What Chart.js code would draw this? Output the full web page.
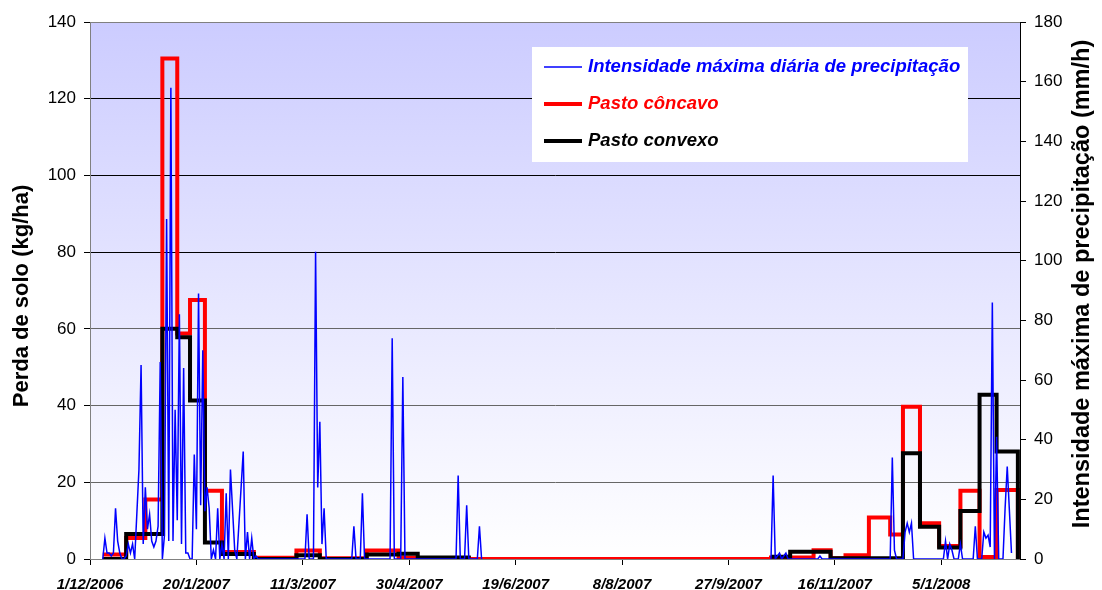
<!DOCTYPE html>
<html><head><meta charset="utf-8">
<script src="https://cdn.jsdelivr.net/npm/chart.js@4.4.1/dist/chart.umd.min.js"></script>
<style>html,body{margin:0;padding:0;background:#fff;}canvas{display:block;}</style>
</head><body>
<canvas id="c" width="1102" height="590"></canvas>
<script>
// x values are days counted from 1/12/2006
const seriesLabels = ['Intensidade máxima diária de precipitação', 'Pasto côncavo', 'Pasto convexo'];
const leftTitle = 'Perda de solo (kg/ha)';
const rightTitle = 'Intensidade máxima de precipitação (mm/h)';

const blueDays = [6,7,8,9,10,11,12,13,14,15,16,17,18,19,20,21,23,24,25,26,27,28,29,30,31,32,33,34,35,36,37,38,39,40,41,42,43,44,45,46,47,48,49,50,51,52,53,54,55,56,57,58,59,60,61,62,63,64,65,66,68,69,72,73,74,75,76,77,78,79,
  101,102,103,105,106,107,108,109,110,111,123,124,125,127,128,129,141,142,143,146,147,148,172,173,174,176,177,178,182,183,184,250,
  320,321,322,324,325,326,327,328,342,343,344,376,377,378,379,382,383,384,385,386,387,401,402,403,404,405,406,408,409,410,415,416,417,419,420,421,422,423,424,425,426,427,429,430,431,433];
const blueValues = [0,7,2,2,1,2,17,6,2,0,0,1,5,2,5,0,30,65,5,24,10,15,6,4,6,11,66,0,8,114,6,158,6,50,13,82,5,64,2,2,0,0,35,10,89,18,70,16,24,17,0,3,0,17,0,5,0,22,0,30,3,0,36,0,9,0,7,0,1,0,
  0,15,0,0,103,24,46,5,17,0,0,11,0,0,22,0,0,74,0,0,61,0,0,28,0,0,18,0,0,11,0,null,
  0,28,0,2,0,1,2,0,0,1,0,0,34,3,0,0,9,12,9,12,0,0,6,0,5,3,0,0,5,0,0,11,0,0,9,7,8,4,86,0,41,0,0,17,31,2];

const concaveDays = [6,17,26,34,41,47,54,62,77,97,108,130,145,154,178,320,340,348,355,366,376,382,390,399,409,418,426,436];
const concaveValues = [1.2,5.5,15.5,130.5,58.8,67.5,17.8,1.8,0.3,2.2,0.2,2.2,0.3,0.2,0,0.4,2.3,0.2,1.0,10.8,6.4,39.7,9.3,3.4,17.8,0.5,18,0];

const convexDays = [6,17,34,41,47,54,62,77,97,108,130,145,154,178,200,320,329,348,382,390,399,409,418,426,436];
const convexValues = [0,6.5,60,57.8,41.3,4.3,1.3,0,1.0,0,1.2,1.4,0.4,0.3,null,0.6,1.9,0.2,27.6,8.4,3.0,12.5,42.8,28,0];

const xMin = 0, xMax = 437, xStep = 50;
const leftMax = 140, rightMax = 180, yStep = 20;

const toPts = (d, v) => d.map((x, i) => ({x: x, y: v[i]}));
const FONT = "'Liberation Sans', Arial, sans-serif";

function dayLabel(v) {
  const d = new Date(2006, 11, 1 + v);
  return d.getDate() + '/' + (d.getMonth() + 1) + '/' + d.getFullYear();
}

function vTitle(ctx, text, x, y, size) {
  ctx.save();
  ctx.translate(x, y);
  ctx.rotate(-Math.PI / 2);
  ctx.fillStyle = '#000';
  ctx.font = 'bold ' + size + 'px ' + FONT;
  ctx.textAlign = 'center';
  ctx.textBaseline = 'middle';
  ctx.fillText(text, 0, 0);
  ctx.restore();
}

const bgPlugin = {
  id: 'bg',
  beforeDraw(chart) {
    const {ctx, chartArea: a} = chart;
    ctx.save();
    ctx.fillStyle = '#fff';
    ctx.fillRect(0, 0, chart.width, chart.height);
    const g = ctx.createLinearGradient(0, a.top, 0, a.bottom);
    g.addColorStop(0, '#CCCCFF');
    g.addColorStop(1, '#FFFFFF');
    ctx.fillStyle = g;
    ctx.fillRect(a.left, a.top, a.right - a.left, a.bottom - a.top);
    ctx.restore();
  },
  afterDraw(chart) {
    const ctx = chart.ctx;
    const a = chart.chartArea;
    ctx.save();
    ctx.strokeStyle = '#808080';
    ctx.lineWidth = 1;
    ctx.beginPath();
    ctx.moveTo(a.left, a.top + 0.5);
    ctx.lineTo(a.right, a.top + 0.5);
    ctx.stroke();
    // axis titles, reading bottom to top
    vTitle(ctx, leftTitle, 22, 296, 22);
    vTitle(ctx, rightTitle, 1083, 284, 23.5);
    // legend box
    ctx.fillStyle = '#fff';
    ctx.fillRect(532, 47, 436, 115);
    const rows = [67, 104, 141];
    chart.data.datasets.forEach((ds, i) => {
      const y = rows[i];
      ctx.strokeStyle = ds.borderColor;
      ctx.lineWidth = ds.borderWidth;
      ctx.beginPath();
      ctx.moveTo(544, y);
      ctx.lineTo(582, y);
      ctx.stroke();
      ctx.fillStyle = ds.borderColor;
      ctx.font = 'italic bold 18.5px ' + FONT;
      ctx.textBaseline = 'middle';
      ctx.textAlign = 'left';
      ctx.fillText(ds.label, 588, y);
    });
    ctx.restore();
  }
};

new Chart(document.getElementById('c'), {
  type: 'line',
  data: {
    datasets: [
      {label: seriesLabels[0], data: toPts(blueDays, blueValues), yAxisID: 'y1',
       borderColor: '#0000FF', borderWidth: 1.5, pointRadius: 0, tension: 0, order: 0},
      {label: seriesLabels[1], data: toPts(concaveDays, concaveValues), yAxisID: 'y',
       borderColor: '#FF0000', borderWidth: 4, pointRadius: 0, stepped: 'before', order: 2},
      {label: seriesLabels[2], data: toPts(convexDays, convexValues), yAxisID: 'y',
       borderColor: '#000000', borderWidth: 4, pointRadius: 0, stepped: 'before', order: 1}
    ]
  },
  options: {
    responsive: false,
    animation: false,
    devicePixelRatio: 1,
    layout: {padding: {top: 22, left: 0, right: 0, bottom: 0}},
    plugins: {legend: {display: false}, tooltip: {enabled: false}},
    scales: {
      x: {
        type: 'linear', min: xMin, max: xMax,
        afterFit: s => { s.height = 31; },
        ticks: {stepSize: xStep, includeBounds: false, autoSkip: false, maxRotation: 0,
                callback: v => dayLabel(v), color: '#000', padding: 11,
                font: {family: FONT, size: 15, weight: 'bold', style: 'italic'}},
        grid: {drawOnChartArea: false, tickLength: 6, tickColor: '#000'},
        border: {color: '#808080', width: 1}
      },
      y: {
        position: 'left', min: 0, max: leftMax,
        afterFit: s => { s.width = 90; },
        ticks: {stepSize: yStep, color: '#000', padding: 8,
                font: {family: FONT, size: 17}},
        grid: {color: c => (c.tick && c.tick.value >= 80 ? '#000000' : '#666666'), lineWidth: 1,
               tickLength: 6, tickColor: '#000'},
        border: {color: '#808080', width: 1},
        title: {display: false}
      },
      y1: {
        position: 'right', min: 0, max: rightMax,
        afterFit: s => { s.width = 82; },
        ticks: {stepSize: yStep, color: '#000', padding: 8,
                font: {family: FONT, size: 17}},
        grid: {drawOnChartArea: false, tickLength: 6, tickColor: '#000'},
        border: {color: '#000', width: 1},
        title: {display: false}
      }
    }
  },
  plugins: [bgPlugin]
});
</script>
</body></html>
